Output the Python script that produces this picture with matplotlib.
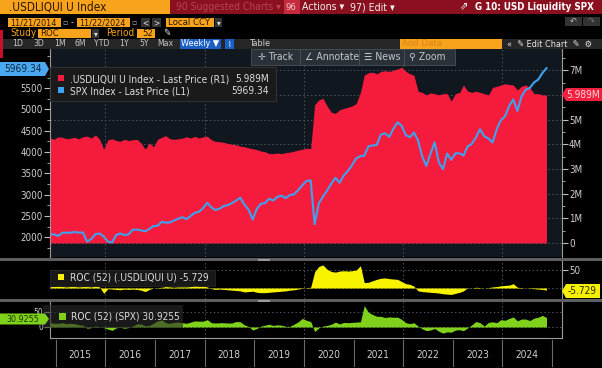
import matplotlib
matplotlib.use('Agg')
import matplotlib.pyplot as plt
from matplotlib.patches import Rectangle, Polygon
import numpy as np
import pandas as pd

# ---------------- data (weekly chart) ----------------
dates = pd.date_range('2014-11-21', '2024-11-21', freq=pd.DateOffset(months=1))

spx = [2063, 2070,
       2032, 2110, 2108, 2108, 2126, 2109, 2115, 1900, 1960, 2075, 2089, 2020,
       1900, 1880, 2049, 2091, 2052, 2070, 2175, 2183, 2163, 2141, 2198, 2265,
       2271, 2365, 2344, 2349, 2394, 2435, 2472, 2426, 2502, 2575, 2599, 2684,
       2810, 2700, 2640, 2670, 2733, 2754, 2801, 2862, 2929, 2767, 2650, 2417,
       2670, 2792, 2800, 2905, 2864, 2950, 2976, 2922, 2992, 3006, 3110, 3221,
       3321, 3337, 2305, 2797, 2955, 3098, 3257, 3397, 3281, 3453, 3557, 3694,
       3853, 3906, 3913, 4135, 4156, 4166, 4411, 4441, 4358, 4545, 4698, 4620,
       4398, 4349, 4463, 4272, 3901, 3675, 3962, 4228, 3757, 3600, 3966, 3822,
       3972, 3970, 3917, 4133, 4192, 4348, 4536, 4370, 4320, 4224, 4538, 4746,
       4840, 5088, 5234, 4967, 5304, 5464, 5505, 5634, 5702, 5853, 5969.34]

usd_liq = [4.26, 4.20,
           4.30, 4.28, 4.22, 4.25, 4.28, 4.22, 4.30, 4.33, 4.25, 4.38, 4.20, 3.80,
           4.18, 4.22, 4.15, 4.12, 4.20, 4.15, 4.18, 4.20, 4.05, 3.80, 4.05, 3.90,
           4.20, 4.28, 4.35, 4.22, 4.20, 4.22, 4.25, 4.30, 4.25, 4.32, 4.25, 4.30,
           4.32, 4.18, 4.12, 4.10, 4.08, 4.03, 4.00, 3.98, 3.92, 3.90, 3.85, 3.82,
           3.78, 3.72, 3.70, 3.62, 3.62, 3.64, 3.62, 3.66, 3.68, 3.72, 3.76, 3.80,
           3.84, 3.82, 5.60, 5.80, 5.86, 5.55, 5.30, 5.25, 5.40, 5.45, 5.50, 5.55,
           5.65, 6.10, 6.80, 6.90, 6.92, 6.85, 6.95, 6.98, 6.95, 7.00, 7.05, 7.12,
           6.95, 6.85, 6.80, 6.15, 6.10, 6.00, 6.08, 6.05, 6.00, 6.05, 6.05, 5.75,
           6.05, 6.10, 6.40, 6.15, 6.10, 6.15, 6.10, 6.05, 6.00, 6.30, 6.35, 6.40,
           6.45, 6.42, 6.40, 6.20, 6.35, 6.40, 6.30, 6.05, 6.05, 6.00, 5.989]

roc_liq = [4, 4,
           5, 4, 3, 4, 4, 3, 4, 4, 3, 5, 3, -15,
           -2, -3, -4, -5, -3, -4, -3, -4, -6, -10, -4, 0,
           1, 2, 4, 3, 2, 3, 3, 3, 4, 8, 5, 5,
           3, -2, -4, -3, -4, -5, -6, -7, -8, -11, -10, -9,
           -12, -13, -13, -12, -11, -10, -9, -8, -6, -5, -3, -1,
           1, 2, 45, 60, 64, 52, 46, 44, 47, 48, 47, 48,
           50, 62, 15, 16, 20, 24, 27, 28, 26, 25, 24, 18,
           12, 10, 5, -8, -10, -11, -12, -13, -14, -16, -17, -18,
           -15, -12, -8, 1, 0, 2, 1, 0, 1, 3, 4, 6,
           7, 8, 12, 2, 1, 0, -1, -2, -3, -4, -5.729]

roc_spx = [14, 12,
           12, 14, 11, 12, 11, 7, 6, -4, -2, 3, 1, -2,
           -7, -11, -3, -1, -4, -2, 3, 10, 10, 4, 5, 12,
           20, 23, 14, 12, 15, 16, 14, 12, 16, 20, 19, 19,
           24, 14, 13, 14, 14, 13, 13, 18, 17, 7, 2, -10,
           -5, 3, 6, 9, 5, 7, 6, 2, 2, 9, 17, 28,
           22, 18, -15, -3, 3, 5, 9, 16, 10, 15, 14, 15,
           16, 17, 70, 48, 41, 35, 35, 31, 33, 32, 32, 25,
           14, 11, 14, 3, -6, -12, -10, -5, -14, -20, -16, -17,
           -10, -9, -12, -3, 7, 18, 14, 3, 15, 17, 14, 24,
           22, 28, 33, 20, 26, 26, 21, 29, 32, 38, 30.9255]

years = [2015, 2016, 2017, 2018, 2019, 2020, 2021, 2022, 2023, 2024]
liq_ticks = [0, 1, 2, 3, 4, 5, 6, 7]
liq_labels = ['0', '1M', '2M', '3M', '4M', '5M', '', '7M']   # 6M hidden by value tag
spx_ticks = [2000, 2500, 3000, 3500, 4000, 4500, 5000, 5500]

# ---------------- styling ----------------
W, H = 602, 368
FONT = ['DejaVu Sans']
plt.rcParams['font.family'] = FONT
plt.rcParams['font.stretch'] = 'condensed'
RED = '#f51b3d'
BLUE = '#3ea2f0'
YEL = '#f8f400'
GRN = '#7fd11b'
AMBER = '#f8a31c'
TXT = '#cfcfcf'
GRID = '#4d5863'

fig = plt.figure(figsize=(W / 100, H / 100), dpi=100, facecolor='black')


def rect(x0, y0, x1, y1):
    return [x0 / W, 1 - y1 / H, (x1 - x0) / W, (y1 - y0) / H]


def box(x0, y0, x1, y1, fc, ec='none', lw=0, z=5, alpha=1.0):
    fig.add_artist(Rectangle((x0 / W, 1 - y1 / H), (x1 - x0) / W, (y1 - y0) / H,
                             transform=fig.transFigure, facecolor=fc, edgecolor=ec,
                             linewidth=lw, zorder=z, alpha=alpha))


def txt(x, y, s, color, size=6.5, ha='left', va='center', weight='normal', z=10):
    fig.text(x / W, 1 - y / H, s, color=color, fontsize=size, ha=ha, va=va,
             weight=weight, zorder=z, family=FONT, stretch='condensed')


def tag(x0, y0, x1, y1, fc, side, z=8):
    ym = (y0 + y1) / 2
    if side == 'right':   # pointer on right
        pts = [(x0, y0), (x1 - 4, y0), (x1, ym), (x1 - 4, y1), (x0, y1)]
    else:
        pts = [(x0 + 4, y0), (x1, y0), (x1, y1), (x0 + 4, y1), (x0, ym)]
    pts = [(a / W, 1 - b / H) for a, b in pts]
    fig.add_artist(Polygon(pts, closed=True, transform=fig.transFigure,
                           facecolor=fc, edgecolor='none', zorder=z))


xmin = pd.Timestamp('2014-11-21')
xmax = pd.Timestamp('2025-03-15')
year_starts = [pd.Timestamp(f'{y}-01-01') for y in years + [2025]]
even_years = [pd.Timestamp(f'{y}-01-01') for y in [2016, 2018, 2020, 2022, 2024]]

# ---------------- main panel ----------------
ax_liq = fig.add_axes(rect(50, 48, 562, 257), facecolor='#10171e')
ax_liq.set_xlim(xmin, xmax)
ax_liq.set_ylim(-0.57, 7.9)
ax_liq.set_axisbelow(True)
ax_liq.fill_between(dates, 0, usd_liq, color=RED, linewidth=0, zorder=2)
for v in liq_ticks:
    ax_liq.axhline(v, color=GRID, lw=0.7, ls=(0, (1.5, 2.5)), zorder=1)
for d in even_years:
    ax_liq.axvline(d, color=GRID, lw=0.7, ls=(0, (1.5, 2.5)), zorder=1)
ax_liq.yaxis.tick_right()
ax_liq.set_yticks(liq_ticks)
ax_liq.set_yticklabels(liq_labels)
ax_liq.set_yticks(np.arange(0.5, 7.6, 1), minor=True)
ax_liq.tick_params(axis='y', which='major', colors='#bdbdbd', labelcolor=TXT,
                   labelsize=7, length=4, width=0.8, direction='out', pad=1)
ax_liq.tick_params(axis='y', which='minor', colors='#bdbdbd', length=2, width=0.6)
ax_liq.set_xticks([])
for s in ['top', 'bottom', 'left']:
    ax_liq.spines[s].set_visible(False)
ax_liq.spines['right'].set_color('#9a9a9a')
ax_liq.spines['right'].set_linewidth(0.8)

ax_spx = fig.add_axes(rect(50, 48, 562, 257), facecolor='none')
ax_spx.set_xlim(xmin, xmax)
ax_spx.set_ylim(1538, 6443)
ax_spx.plot(dates, spx, color=BLUE, lw=1.5, solid_joinstyle='round')
ax_spx.set_yticks(spx_ticks)
ax_spx.set_yticks(np.arange(1750, 6300, 500), minor=True)
ax_spx.tick_params(axis='y', which='major', colors='#bdbdbd', labelcolor=TXT,
                   labelsize=7, length=4, width=0.8, direction='out', pad=1)
ax_spx.tick_params(axis='y', which='minor', colors='#bdbdbd', length=2, width=0.6)
ax_spx.set_xticks([])
for s in ['top', 'bottom', 'right']:
    ax_spx.spines[s].set_visible(False)
ax_spx.spines['left'].set_color('#9a9a9a')
ax_spx.spines['left'].set_linewidth(0.8)

# ---------------- ROC panels ----------------
ax_r1 = fig.add_axes(rect(50, 261, 562, 299), facecolor='black')
ax_r1.set_xlim(xmin, xmax)
ax_r1.set_ylim(-30.6, 75)
ax_r1.fill_between(dates, 0, roc_liq, color=YEL, linewidth=0, zorder=2)
for v in [0, 50]:
    ax_r1.axhline(v, color=GRID, lw=0.7, ls=(0, (1.5, 2.5)), zorder=1)
for d in even_years:
    ax_r1.axvline(d, color=GRID, lw=0.7, ls=(0, (1.5, 2.5)), zorder=1)
ax_r1.yaxis.tick_right()
ax_r1.set_yticks([50])
ax_r1.tick_params(axis='y', colors='#bdbdbd', labelcolor=TXT, labelsize=7,
                  length=4, width=0.8, pad=1)
ax_r1.set_xticks([])
for s in ['top', 'bottom', 'left']:
    ax_r1.spines[s].set_visible(False)
ax_r1.spines['right'].set_color('#9a9a9a')
ax_r1.spines['right'].set_linewidth(0.8)

ax_r2 = fig.add_axes(rect(50, 302, 562, 338), facecolor='black')
ax_r2.set_xlim(xmin, xmax)
ax_r2.set_ylim(-36, 81.7)
ax_r2.fill_between(dates, 0, roc_spx, color=GRN, linewidth=0, zorder=2)
for v in [0, 50]:
    ax_r2.axhline(v, color=GRID, lw=0.7, ls=(0, (1.5, 2.5)), zorder=1)
for d in even_years:
    ax_r2.axvline(d, color=GRID, lw=0.7, ls=(0, (1.5, 2.5)), zorder=1)
ax_r2.set_yticks([0, 50])
ax_r2.tick_params(axis='y', colors='#bdbdbd', labelcolor=TXT, labelsize=6,
                  length=4, width=0.8, pad=1)
ax_r2.set_xticks([])
ax_r2.spines['top'].set_visible(False)
for s in ['left', 'right', 'bottom']:
    ax_r2.spines[s].set_color('#9a9a9a')
    ax_r2.spines[s].set_linewidth(0.8)

# ---------------- x axis (years) ----------------
ax_x = fig.add_axes(rect(50, 338, 562, 368), facecolor='none')
ax_x.set_xlim(xmin, xmax)
ax_x.set_ylim(0, 1)
ax_x.axis('off')
for d in year_starts:
    ax_x.plot([d, d], [0.07, 0.93], color='#6a6a6a', lw=0.8)
for y in years:
    ax_x.text(pd.Timestamp(f'{y}-07-02'), 0.43, str(y), color=TXT, fontsize=7.3,
              ha='center', va='center')

# separators between panels
box(0, 258, 602, 261, '#5e5e5e', z=3)
box(0, 299, 602, 302, '#5e5e5e', z=3)
box(258, 258.5, 270, 260.5, '#9a9a9a', z=4)
box(258, 299.5, 270, 301.5, '#9a9a9a', z=4)

# ---------------- legends and value tags ----------------
box(50, 67, 276, 101, '#1b1b1b', ec='#3a3a3a', lw=0.6, z=6, alpha=0.95)
box(58, 75, 64, 81, RED, z=7)
box(58, 87, 64, 93, BLUE, z=7)
txt(70, 79.5, '.USDLIQUI U Index - Last Price (R1)', '#dcdcdc', 7.3)
txt(70, 91, 'SPX Index - Last Price (L1)', '#dcdcdc', 7.3)
txt(269, 79.5, '5.989M', '#dcdcdc', 7.3, ha='right')
txt(269, 91, '5969.34', '#dcdcdc', 7.3, ha='right')

box(50, 270, 215, 286, '#1b1b1b', ec='#2c2c2c', lw=0.5, z=6, alpha=0.9)
box(58, 274, 64, 280, YEL, z=7)
txt(70, 277.5, 'ROC (52) (.USDLIQUI U) -5.729', '#dcdcdc', 7.3)

box(43, 305, 183, 328, '#2a2a2a', ec='none', z=6, alpha=0.6)
box(59, 313, 66, 320, GRN, z=7)
txt(71, 316.5, 'ROC (52) (SPX) 30.9255', '#dcdcdc', 7.3)

tag(0, 62, 49, 76, '#4aa8f0', 'right')
txt(23, 69, '5969.34', '#0b2742', 7.3, ha='center')
tag(562, 88, 602, 101, '#f0213e', 'left')
txt(583, 94.5, '5.989M', '#ffd7dd', 7.3, ha='center')
tag(562, 284, 600, 298, '#f6f000', 'left')
txt(582, 291, '-5.729', '#2a2a00', 7.3, ha='center')
tag(0, 313.5, 49, 324.5, '#7fd11b', 'right')
txt(23, 319, '30.9255', '#1a3300', 6.4, ha='center')

# chart toolbar buttons (Track / Annotate / News / Zoom)
for xa, xb in [(251, 300), (300, 359), (359, 404), (404, 455)]:
    box(xa, 49, xb, 65, '#2b3138', ec='#4a525a', lw=0.6, z=6)
txt(258, 57, '✛ Track', '#c4c8cc', 7.5)
txt(305, 57, '∠ Annotate', '#c4c8cc', 7.5)
txt(364, 57, '☰ News', '#c4c8cc', 7.5)
txt(409, 57, '⚲ Zoom', '#c4c8cc', 7.5)

# ---------------- terminal header ----------------
box(0, 0, 602, 14, '#8a0f1f', z=2)
box(0, 0, 170, 14, AMBER, z=3)
txt(9, 7, '.USDLIQUI U Index', '#2b1600', 8.5)
txt(176, 7, '90 Suggested Charts ▾', '#b34552', 7.4)
box(284, 0, 300, 14, '#c42b3c', z=3)
txt(286, 7, '96', '#f3c6cc', 6.8)
txt(302, 7, 'Actions ▾', '#f0f0f0', 7.6)
txt(350, 7, '97) Edit ▾', '#f0f0f0', 7.6)
txt(459, 7, '⇗', '#ffffff', 8)
txt(475, 7, 'G 10: USD Liquidity SPX', '#ffffff', 7, weight='bold')

box(8, 18, 61, 27, AMBER, z=3)
txt(10, 22.5, '11/21/2014', '#2b1600', 6.5)
txt(62, 22.5, '▫', '#aaaaaa', 6)
txt(71, 22.5, '-', '#cccccc', 6.5)
box(77, 18, 130, 27, AMBER, z=3)
txt(79, 22.5, '11/22/2024', '#2b1600', 6.5)
txt(131, 22.5, '▫', '#aaaaaa', 6)
box(141, 18, 150, 27, '#333333', z=3)
box(152, 18, 161, 27, '#333333', z=3)
txt(145.5, 22.5, '<', '#dddddd', 6, ha='center')
txt(156.5, 22.5, '>', '#dddddd', 6, ha='center')
box(166, 18, 214, 27, AMBER, z=3)
txt(168, 22.5, 'Local CCY', '#2b1600', 6.8)
box(215, 18, 222, 27, '#333333', z=3)
txt(218.5, 22.5, '▾', '#dddddd', 6, ha='center')
box(565, 17, 582, 26, '#333333', z=3)
box(583, 17, 600, 26, '#333333', z=3)
txt(573.5, 21.5, '↶', '#bbbbbb', 6.5, ha='center')
txt(591.5, 21.5, '↷', '#777777', 6.5, ha='center')

txt(10, 33, 'Study', AMBER, 7.2)
box(38, 29, 91, 38, AMBER, z=3)
txt(40, 33.5, 'ROC', '#2b1600', 6.8)
box(92, 29, 99, 38, '#333333', z=3)
txt(95.5, 33.5, '▾', '#dddddd', 6, ha='center')
txt(106, 33, 'Period', AMBER, 7.2)
box(137, 29, 155, 38, AMBER, z=3)
txt(153, 33.5, '52', '#2b1600', 6.8, ha='right')
txt(163, 33, '✎', '#dddddd', 7)

box(0, 39, 602, 49, '#262626', z=2)
xs = [18, 39, 60, 80, 102, 124, 144, 165]
for xpos, lab in zip(xs, ['1D', '3D', '1M', '6M', 'YTD', '1Y', '5Y', 'Max']):
    txt(xpos, 44, lab, '#c8c8c8', 6.2, ha='center')
box(180, 39, 221, 49, '#1a5fc4', z=3)
txt(200.5, 44, 'Weekly ▼', '#ffffff', 6.5, ha='center')
box(225, 39, 234, 49, '#1a5fc4', z=3)
txt(229.5, 44, '⌇', '#ffffff', 6, ha='center')
txt(250, 44, 'Table', '#d0d0d0', 6.5)
box(400, 39.5, 502, 48.5, AMBER, z=3)
txt(402, 44, 'Add Data', '#d5841a', 6.8)
txt(507, 44, '«  ✎ Edit Chart  ✎  ⚙', '#e8e8e8', 6.5)

# red strip at far left edge
box(0, 30, 2.5, 58, '#c8102e', z=3)

fig.savefig('out.png', dpi=100, facecolor='black')
